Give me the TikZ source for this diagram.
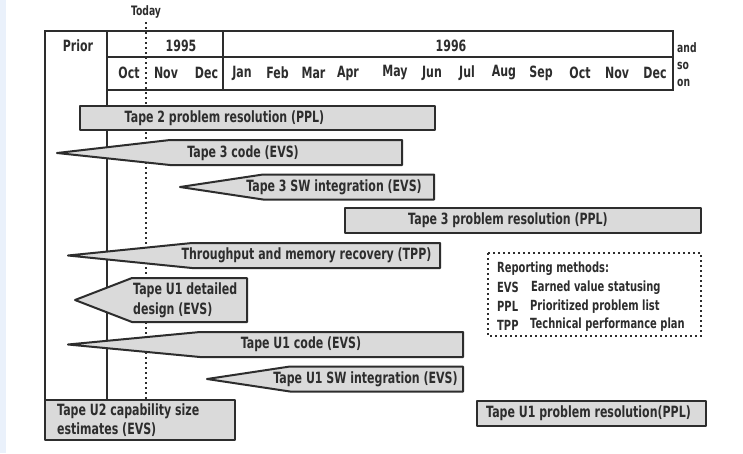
\documentclass[tikz,border=0pt]{standalone}
\usepackage{fontspec}
\setmainfont{DejaVu Sans}[FakeStretch=0.71]
\definecolor{ink}{RGB}{45,45,45}
\definecolor{barfill}{RGB}{218,218,218}
\definecolor{strip}{RGB}{234,241,251}
\begin{document}
\begin{tikzpicture}[x=1pt,y=-1pt,
  frame/.style={draw=ink, line width=2pt},
  bar/.style={draw=ink, line width=2pt, fill=barfill, line join=round},
  dotline/.style={draw=ink, line width=2pt, dash pattern=on 1.8pt off 3.2pt},
  lbl/.style={font=\bfseries\fontsize{15.5}{18}\selectfont, text=ink, inner sep=0pt},
  small/.style={font=\bfseries\fontsize{13}{15}\selectfont, text=ink, inner sep=0pt},
  leg/.style={font=\bfseries\fontsize{14}{19}\selectfont, text=ink, inner sep=0pt, anchor=west}]
\useasboundingbox (0,0) rectangle (743,453);
\fill[white] (0,0) rectangle (743,453);
\fill[strip] (0,0) rectangle (6,453);

% today line
\node[small] (today) at (146,12) {Today};
\draw[dotline] (146,22) -- (146,400);

% header frame
\draw[frame] (45,400) -- (45,31) -- (673,31) -- (673,90) -- (107,90);
\draw[frame] (107,31) -- (107,400);
\draw[frame] (107,57) -- (673,57);
\draw[frame] (223,31) -- (223,90);

\node[lbl] (prior) at (78,46) {Prior};
\node[lbl] (y95) at (181,46) {1995};
\node[lbl] (y96) at (451,46) {1996};
\foreach \m/\x in {Oct/129,Nov/166,Dec/206.5,Jan/242,Feb/277.5,Mar/313.5,Apr/348,May/395,Jun/432,Jul/467,Aug/504,Sep/541,Oct/580,Nov/617,Dec/655}
  \node[lbl] at (\x,73) {\m};
\node[small,anchor=west] (and) at (677,48) {and};
\node[small,anchor=west] (so) at (677,66) {so};
\node[small,anchor=west] (on) at (677,83) {on};

% bars
\draw[bar] (80,106) rectangle (435,130);
\node[lbl] (t2ppl) at (224.5,118) {Tape 2 problem resolution (PPL)};

\draw[bar] (57,153) -- (170,140) -- (402,140) -- (402,165) -- (170,165) -- cycle;
\node[lbl] (t3code) at (243,153) {Tape 3 code (EVS)};

\draw[bar] (180,187) -- (263,174.5) -- (434,174.5) -- (434,199.5) -- (263,199.5) -- cycle;
\node[lbl] (t3sw) at (334,187) {Tape 3 SW integration (EVS)};

\draw[bar] (345,208) rectangle (701,233);
\node[lbl] (t3ppl) at (508,220.5) {Tape 3 problem resolution (PPL)};

\draw[bar] (68,255.5) -- (192,243) -- (440,243) -- (440,268) -- (192,268) -- cycle;
\node[lbl] (tpp) at (306.5,255.5) {Throughput and memory recovery (TPP)};

\draw[bar] (75,300) -- (132,278) -- (247,278) -- (247,322) -- (132,322) -- cycle;
\node[lbl,anchor=west,align=left,font=\bfseries\fontsize{15.5}{20}\selectfont] (u1dd) at (133,300) {Tape U1 detailed\\design (EVS)};

\draw[bar] (68,344.5) -- (200,332) -- (463,332) -- (463,357) -- (200,357) -- cycle;
\node[lbl] (u1code) at (301,344.5) {Tape U1 code (EVS)};

\draw[bar] (207,379) -- (290,366.5) -- (463,366.5) -- (463,391.5) -- (290,391.5) -- cycle;
\node[lbl] (u1sw) at (365.5,379) {Tape U1 SW integration (EVS)};

\draw[bar] (45,400) rectangle (235,440);
\node[lbl,anchor=west,align=left,font=\bfseries\fontsize{15.5}{19}\selectfont] (u2cap) at (57,420.5) {Tape U2 capability size\\estimates (EVS)};

\draw[bar] (477,400.5) rectangle (706,426);
\node[lbl] (u1ppl) at (588.5,413) {Tape U1 problem resolution(PPL)};

% legend
\draw[dotline] (488,253) rectangle (701,336);
\node[leg] (legh) at (497,269) {Reporting methods:};
\node[leg] (evs) at (497,287.5) {EVS};
\node[leg] (evsd) at (531,287.5) {Earned value statusing};
\node[leg] (ppl) at (497,306.5) {PPL};
\node[leg] (ppld) at (530,306.5) {Prioritized problem list};
\node[leg] (tppk) at (497,325) {TPP};
\node[leg] (tppd) at (530,325) {Technical performance plan};
\end{tikzpicture}
\end{document}
